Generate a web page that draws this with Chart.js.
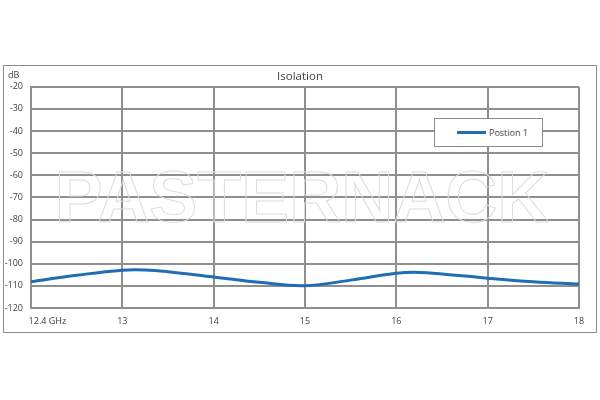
<!DOCTYPE html>
<html>
<head>
<meta charset="utf-8">
<script src="https://cdn.jsdelivr.net/npm/chart.js@4"></script>
<style>
  body { margin: 0; background: #fff; }
  #wrap { position: relative; width: 600px; height: 400px; }
  #legend {
    position: absolute; left: 434px; top: 118px; width: 107px; height: 27px;
    border: 1px solid #8c8c8c; background: #fff;
    font: 9px "Open Sans", sans-serif; color: #404040;
    display: flex; align-items: center;
  }
  #legend .swatch { width: 29px; height: 3px; margin-left: 22px; margin-right: 3px; }
</style>
</head>
<body>
<div id="wrap">
  <canvas id="iso" width="600" height="400"></canvas>
  <div id="legend"></div>
</div>
<script>
// frecuencias (GHz) y aislamiento
const freqs = [12.4, 12.7, 13, 13.25, 13.5, 14, 14.5, 15, 15.5, 16, 16.25, 16.5, 17, 17.5, 18];
const isolation = [-108.1, -105.2, -102.9, -102.8, -103.6, -106, -108.4, -109.9, -107.4, -104.3, -103.9, -104.6, -106.5, -108.1, -109.2];
const xLabels = ['12.4 GHz', '13', '14', '15', '16', '17', '18'];
const yTicks = [-20, -30, -40, -50, -60, -70, -80, -90, -100, -110, -120];

// el eje no es lineal: 12.4 -> 13 ocupa lo mismo que 13 -> 14
const pos = f => f < 13 ? (f - 12.4) / 0.6 : f - 12;

const grid = '#8f8f8f';
const txt = '#404040';
const font = { family: 'Open Sans', size: 9 };

const extras = {
    id: 'extras',
    beforeDraw(chart) {
        const ctx = chart.ctx;
        ctx.save();
        ctx.strokeStyle = '#8c8c8c';
        ctx.lineWidth = 1;
        ctx.strokeRect(3.5, 65.5, 593, 267);
        ctx.fillStyle = txt;
        ctx.font = '9px "Open Sans"';
        ctx.textBaseline = 'middle';
        ctx.fillText('dB', 8, 75);
        ctx.restore();
    },
    beforeDatasetsDraw(chart) {
        const ctx = chart.ctx;
        ctx.save();
        ctx.font = 'bold 72px "Liberation Sans"';
        ctx.textAlign = 'center';
        ctx.strokeStyle = '#dcdcdc';
        ctx.lineWidth = 1;
        ctx.strokeText('PASTERNACK', 302, 222);
        ctx.restore();
    }
};

const chart = new Chart(document.querySelector('#iso'), {
    type: 'line',
    data: {
        datasets: [{
            label: 'Postion 1',
            data: freqs.map((f, i) => ({ x: pos(f), y: isolation[i] })),
            borderColor: '#1f6db5',
            borderWidth: 3,
            pointRadius: 0,
            tension: 0.4,
            fill: false
        }]
    },
    options: {
        responsive: false,
        animation: false,
        layout: { padding: { left: 0, right: 0, top: 0, bottom: 62 } },
        plugins: {
            legend: { display: false },
            tooltip: { enabled: false },
            title: {
                display: true,
                text: 'Isolation',
                color: txt,
                font: { family: 'Open Sans', size: 11.5, weight: 'normal' },
                padding: { top: 70, bottom: 3 }
            }
        },
        scales: {
            x: {
                type: 'linear',
                min: 0, max: 6,
                afterBuildTicks: s => { s.ticks = xLabels.map((l, i) => ({ value: i })); },
                afterFit: s => { s.height = 30; s.paddingLeft = 0; s.paddingRight = 0; },
                ticks: {
                    // espacios para que "12.4 GHz" quede a la derecha del eje
                    callback: (v, i) => i === 0 ? '              ' + xLabels[0] : xLabels[i],
                    color: txt, font, padding: 8, maxRotation: 0, autoSkip: false
                },
                grid: { color: grid, lineWidth: 2, drawTicks: false },
                border: { color: grid, width: 2 }
            },
            y: {
                min: -120, max: -20,
                afterBuildTicks: s => { s.ticks = yTicks.map(v => ({ value: v })); },
                afterFit: s => { s.width = 31; },
                ticks: { color: txt, font, padding: 8 },
                grid: { color: grid, lineWidth: 2, drawTicks: false },
                border: { color: grid, width: 2 }
            },
            // eje vacio a la derecha, solo reserva el margen
            yRight: {
                position: 'right',
                min: -120, max: -20,
                afterFit: s => { s.width = 21; },
                ticks: { display: false },
                grid: { display: false },
                border: { display: false }
            }
        }
    },
    plugins: [extras]
});

// leyenda en html con el borde como en la imagen
const ds = chart.data.datasets[0];
document.querySelector('#legend').innerHTML =
    `<span class="swatch" style="background:${ds.borderColor}"></span><span>${ds.label}</span>`;
</script>
</body>
</html>
